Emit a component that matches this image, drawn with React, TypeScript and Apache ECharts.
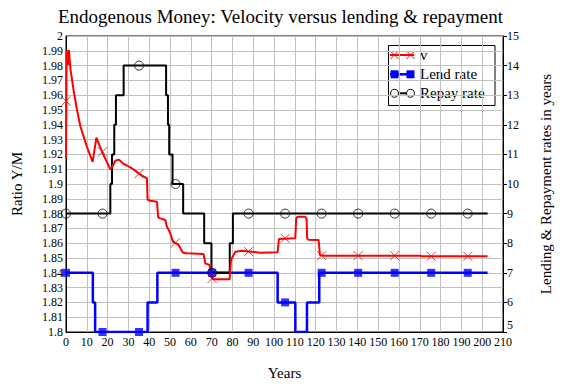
import React, { useEffect, useRef } from "react";
import * as echarts from "echarts";

const FONT = "Liberation Serif, Times New Roman, serif";

const TITLE = "Endogenous Money: Velocity versus lending & repayment";

// Velocity v (left axis, ratio Y/M)
const vT = [0, 0.3, 0.9, 1.4, 2.1, 3.7, 5.3, 6.9, 8.5, 10.1, 11.7, 12.8, 14.6, 17.3, 21.3, 22.2, 23.7, 25.3, 27.7, 29.3, 31.7, 34.9, 37.3, 38.9, 39.2, 40.5, 43.7, 44.3, 45.3, 47.7, 48.5, 49.3, 50.1, 51.4, 54.1, 56.2, 58.1, 66.1, 66.9, 69.0, 70.2, 70.9, 78.6, 79.3, 81.4, 84.6, 93.4, 101.7, 102.3, 110.2, 110.6, 111.2, 115.0, 115.6, 115.9, 116.5, 121.4, 122.0, 123.8, 170.3, 170.7, 202.6];
const vV = [1.9174, 1.9905, 1.9804, 1.9905, 1.978, 1.963, 1.95, 1.939, 1.932, 1.925, 1.919, 1.915, 1.9313, 1.9218, 1.9099, 1.9115, 1.9157, 1.9165, 1.9135, 1.9125, 1.9106, 1.9072, 1.905, 1.9039, 1.8895, 1.8887, 1.888, 1.8775, 1.8768, 1.8757, 1.8711, 1.869, 1.8667, 1.861, 1.8588, 1.8536, 1.8532, 1.8527, 1.8464, 1.8453, 1.8363, 1.8356, 1.8356, 1.8486, 1.8543, 1.8549, 1.8536, 1.8539, 1.8628, 1.8633, 1.8765, 1.8779, 1.8779, 1.8765, 1.8633, 1.8624, 1.8622, 1.852, 1.8516, 1.8516, 1.8512, 1.8512];

// Lend rate (right axis, years)
const lendT = [0, 12.9, 12.9, 14.0, 14.0, 39.2, 39.2, 43.9, 43.9, 101.7, 101.7, 110.2, 110.2, 115.8, 115.8, 121.7, 121.7, 202.6];
const lendV = [7, 7, 6, 6, 5, 5, 6, 6, 7, 7, 6, 6, 5, 5, 6, 6, 7, 7];

// Repay rate (right axis, years)
const repayT = [0, 21.3, 21.3, 22.1, 22.1, 23.2, 23.2, 24.0, 24.0, 27.7, 27.7, 48.1, 48.1, 49.0, 49.0, 49.6, 49.6, 51.2, 51.2, 56.3, 56.3, 66.4, 66.4, 69.9, 69.9, 78.7, 78.7, 80.2, 80.2, 202.6];
const repayV = [9, 9, 10, 10, 11, 11, 12, 12, 13, 13, 14, 14, 13, 13, 12, 12, 11, 11, 10, 10, 9, 9, 8, 8, 7, 7, 8, 8, 9, 9];

// Marker positions
const markT = [0, 17.55, 35.1, 52.65, 70.2, 87.75, 105.3, 122.85, 140.4, 157.95, 175.5, 193.05];
const vMark = [1.956, 1.9218, 1.907, 1.8603, 1.8362, 1.8543, 1.8633, 1.8516, 1.8516, 1.8516, 1.8512, 1.8512];
const lendMark = [7, 5, 5, 7, 7, 7, 6, 7, 7, 7, 7, 7];
const repayMark = [9, 9, 14, 10, 7, 9, 9, 9, 9, 9, 9, 9];

const legendNames = ["v", "Lend rate", "Repay rate"];

const zip = (a: number[], b: number[]) => a.map((x, i) => [x, b[i]]);

const RED = "#ff0000";
const BLUE = "#0000ff";
const BLACK = "#000000";
const CROSS = "path://M0 0L10 10M10 0L0 10";

export default function App() {
  const ref = useRef<HTMLDivElement>(null);
  useEffect(() => {
    if (!ref.current) return;
    const chart = echarts.init(ref.current, undefined, { renderer: "svg" });

    const lx = 388.5, ly = 45.5, lw = 106.5, lh = 60;
    const rows = [55, 74.3, 93.3];
    const l0 = 390, l1 = 414, m0 = 394.5, m1 = 410.5, tx = 420;
    const crossAt = (cx: number, cy: number) => [
      { type: "line", shape: { x1: cx - 4, y1: cy - 4, x2: cx + 4, y2: cy + 4 }, style: { stroke: RED, lineWidth: 1 } },
      { type: "line", shape: { x1: cx - 4, y1: cy + 4, x2: cx + 4, y2: cy - 4 }, style: { stroke: RED, lineWidth: 1 } },
    ];
    const legendGraphic: any[] = [
      { type: "rect", shape: { x: lx, y: ly, width: lw, height: lh }, style: { fill: "#fff", stroke: BLACK, lineWidth: 1 } },
      { type: "line", shape: { x1: l0, y1: rows[0], x2: l1, y2: rows[0] }, style: { stroke: RED, lineWidth: 2 } },
      ...crossAt(m0, rows[0]),
      ...crossAt(m1, rows[0]),
      { type: "line", shape: { x1: l0, y1: rows[1], x2: l1, y2: rows[1] }, style: { stroke: BLUE, lineWidth: 2.5 } },
      { type: "rect", shape: { x: m0 - 4, y: rows[1] - 4, width: 8, height: 8 }, style: { fill: BLUE } },
      { type: "rect", shape: { x: m1 - 4, y: rows[1] - 4, width: 8, height: 8 }, style: { fill: BLUE } },
      { type: "line", shape: { x1: l0, y1: rows[2], x2: l1, y2: rows[2] }, style: { stroke: BLACK, lineWidth: 2 } },
      { type: "circle", shape: { cx: m0, cy: rows[2], r: 4 }, style: { fill: "#fff", stroke: BLACK, lineWidth: 1 } },
      { type: "circle", shape: { cx: m1, cy: rows[2], r: 4 }, style: { fill: "#fff", stroke: BLACK, lineWidth: 1 } },
      ...legendNames.map((n, i) => ({
        type: "text",
        x: tx,
        y: rows[i],
        style: { text: n, fontFamily: FONT, fontSize: 15, fill: BLACK, verticalAlign: "middle" },
      })),
    ];

    chart.setOption({
      animation: false,
      backgroundColor: "#fff",
      textStyle: { fontFamily: FONT, color: BLACK },
      title: {
        text: TITLE,
        left: "center",
        top: 6,
        padding: 0,
        textStyle: { fontFamily: FONT, fontSize: 19, fontWeight: "normal", color: BLACK, lineHeight: 20 },
      },
      grid: { left: 66, top: 36, right: 58, bottom: 53, show: true, borderColor: BLACK, borderWidth: 1, backgroundColor: "transparent" },
      xAxis: {
        type: "value",
        min: 0,
        max: 210,
        interval: 10,
        name: "Years",
        nameLocation: "middle",
        nameGap: 33,
        nameTextStyle: { fontFamily: FONT, fontSize: 15, color: BLACK },
        axisLine: { show: true, lineStyle: { color: BLACK, width: 1 } },
        axisTick: { show: false },
        axisLabel: { fontFamily: FONT, fontSize: 12, color: BLACK, margin: 4 },
        splitLine: { show: true, lineStyle: { color: "#c0c0c0", width: 1 } },
      },
      yAxis: [
        {
          type: "value",
          min: 1.8,
          max: 2.0,
          interval: 0.01,
          position: "left",
          name: "Ratio Y/M",
          nameLocation: "middle",
          nameGap: 42,
          nameTextStyle: { fontFamily: FONT, fontSize: 15, color: BLACK },
          axisLine: { show: true, lineStyle: { color: BLACK, width: 1 } },
          axisTick: { show: false },
          axisLabel: {
            fontFamily: FONT,
            fontSize: 12,
            color: BLACK,
            margin: 3,
            formatter: (v: number) => String(Math.round(v * 100) / 100),
          },
          splitLine: { show: true, lineStyle: { color: "#c0c0c0", width: 1 } },
        },
        {
          type: "value",
          min: 5,
          max: 15,
          interval: 1,
          position: "right",
          name: "Lending & Repayment rates in years",
          nameLocation: "middle",
          nameGap: 35,
          nameTextStyle: { fontFamily: FONT, fontSize: 15, color: BLACK },
          axisLine: { show: true, lineStyle: { color: BLACK, width: 1 } },
          axisTick: { show: true, inside: false, length: 4, lineStyle: { color: BLACK } },
          axisLabel: {
            fontFamily: FONT,
            fontSize: 12,
            color: BLACK,
            margin: 4,
            formatter: (v: number) => (v === 5 ? "{lo|5}" : String(v)),
            rich: { lo: { fontFamily: FONT, fontSize: 12, color: BLACK, padding: [0, 0, 14, 0] } },
          },
          splitLine: { show: false },
        },
      ],
      series: [
        {
          name: "Lend rate",
          type: "line",
          yAxisIndex: 1,
          data: zip(lendT, lendV),
          showSymbol: false,
          lineStyle: { color: BLUE, width: 2.5 },
          itemStyle: { color: BLUE },
          z: 2,
        },
        {
          name: "Repay rate",
          type: "line",
          yAxisIndex: 1,
          data: zip(repayT, repayV),
          showSymbol: false,
          lineStyle: { color: BLACK, width: 2 },
          itemStyle: { color: BLACK },
          z: 3,
        },
        {
          name: "v",
          type: "line",
          yAxisIndex: 0,
          data: zip(vT, vV),
          showSymbol: false,
          lineStyle: { color: RED, width: 2 },
          itemStyle: { color: RED },
          z: 4,
        },
        {
          name: "Lend rate markers",
          type: "scatter",
          yAxisIndex: 1,
          data: zip(markT, lendMark),
          symbol: "rect",
          symbolSize: 8,
          itemStyle: { color: BLUE },
          z: 5,
        },
        {
          name: "Repay rate markers",
          type: "scatter",
          yAxisIndex: 1,
          data: zip(markT, repayMark),
          symbol: "circle",
          symbolSize: 9,
          itemStyle: { color: "none", borderColor: BLACK, borderWidth: 1 },
          z: 6,
        },
        {
          name: "v markers",
          type: "scatter",
          yAxisIndex: 0,
          data: zip(markT, vMark),
          symbol: CROSS,
          symbolSize: 9,
          itemStyle: { color: "none", borderColor: RED, borderWidth: 1 },
          z: 6,
        },
      ],
      graphic: legendGraphic,
    });
    return () => chart.dispose();
  }, []);

  return (
    <div
      ref={ref}
      style={{ position: "fixed", left: 0, top: 0, width: 561, height: 385, background: "#fff" }}
    />
  );
}
